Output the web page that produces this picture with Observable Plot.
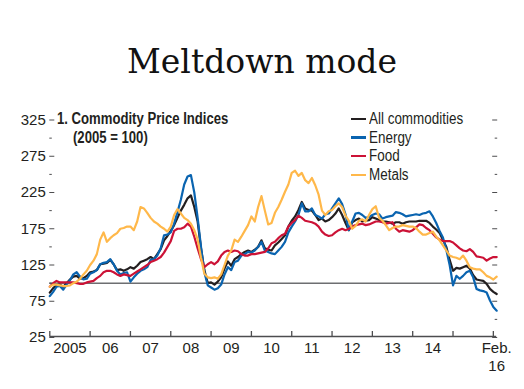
<!DOCTYPE html>
<html>
<head>
<meta charset="utf-8">
<script src="https://cdn.jsdelivr.net/npm/d3@7"></script>
<script src="https://cdn.jsdelivr.net/npm/@observablehq/plot@0.6"></script>
<style>
  html, body { margin: 0; padding: 0; background: #fff; }
  #wrap { position: relative; width: 524px; height: 389px; overflow: hidden; font-family: "Liberation Sans", Arial, sans-serif; color: #231f20; }
  #title { position: absolute; left: 0; width: 524px; top: 42px; text-align: center; font-family: "DejaVu Serif", serif; font-size: 33px; line-height: 40px; color: #111; }
  #chart { position: absolute; left: 0; top: 100px; }
  .ptitle { position: absolute; font-weight: bold; font-size: 16px; line-height: 19px; white-space: pre; transform: scaleX(0.82); transform-origin: 0 50%; }
  #legend { position: absolute; left: 351px; top: 109.5px; font-size: 16px; }
  #legend .row { display: flex; align-items: center; height: 18.7px; white-space: pre; }
  #legend .sw { width: 15px; height: 2.5px; margin-right: 3px; flex: none; }
  #legend .tx { display: inline-block; transform: scaleX(0.84); transform-origin: 0 50%; }
</style>
</head>
<body>
<div id="wrap">
  <div id="title">Meltdown mode</div>
  <div class="ptitle" style="left:57px; top:109px;">1. Commodity Price Indices</div>
  <div class="ptitle" style="left:73px; top:128px;">(2005 = 100)</div>
  <div id="chart"></div>
  <div id="legend"></div>
</div>
<script>
// Monthly data, Jan 2005 .. Feb 2016 (2005 = 100)
const startYear = 2005;
const allCommodities = [
  87, 93, 97, 98, 95, 100, 105, 109, 110, 106, 107, 110,
  115, 116, 118, 126, 127, 128, 132, 126, 118, 119, 117, 119,
  122, 120, 124, 129, 131, 133, 136, 133, 140, 147, 159, 165,
  172, 180, 190, 200, 208, 217, 221, 205, 185, 148, 118, 100,
  101, 98, 102, 108, 120, 130, 124, 133, 136, 140, 143, 145,
  143, 146, 150, 159, 148, 146, 145, 152, 156, 161, 166, 178,
  186, 192, 201, 212, 203, 201, 200, 194, 187, 189, 185, 187,
  191, 196, 203, 194, 183, 173, 184, 187, 189, 185, 186, 187,
  191, 189, 187, 185, 185, 184, 182, 184, 184, 182, 184, 185,
  185, 185, 186, 186, 186, 183, 178, 174, 169, 160, 150, 132,
  117, 121, 120, 122, 124, 120, 111, 105, 104, 103, 99, 92,
  88, 85
];
const energy = [
  82, 88, 95, 96, 91, 98, 104, 112, 115, 109, 105, 106,
  113, 115, 118, 126, 128, 129, 133, 126, 117, 112, 114, 115,
  102, 108, 113, 117, 119, 122, 132, 133, 138, 148, 166, 167,
  170, 182, 198, 215, 236, 247, 249, 225, 190, 150, 115, 97,
  94, 91, 93, 98, 112, 122, 118, 129, 131, 138, 140, 143,
  142, 145, 150, 157, 145, 143, 141, 140, 145, 150, 157, 170,
  178, 185, 194, 210, 199, 199, 203, 194, 192, 189, 195, 196,
  203, 210, 217, 209, 195, 173, 185, 196, 197, 194, 190, 191,
  194, 196, 195, 189, 191, 192, 193, 198, 197, 195, 192, 193,
  194, 195, 194, 196, 197, 199, 192, 183, 172, 163, 146, 125,
  97, 110, 106, 110, 115, 117, 108, 92, 90, 89, 87, 76,
  67, 62
];
const food = [
  95, 100, 103, 101, 101, 101, 101, 101, 100, 99, 99, 101,
  102, 103, 107, 110, 115, 117, 117, 115, 112, 110, 112, 111,
  110, 113, 116, 119, 122, 125, 129, 131, 133, 136, 142, 150,
  158, 172, 175, 175, 177, 182, 178, 164, 148, 133, 122, 126,
  129, 126, 130, 138, 143, 145, 143, 145, 144, 140, 138, 138,
  140, 140, 141, 142, 143, 148, 155, 157, 162, 166, 168, 178,
  183, 187, 193, 190, 186, 185, 184, 182, 178, 171, 167, 165,
  166, 170, 173, 175, 173, 175, 178, 180, 181, 182, 180, 181,
  183, 185, 185, 184, 182, 183, 184, 175, 171, 173, 172, 171,
  173, 177, 181, 180, 176, 173, 168, 163, 160, 158, 158, 158,
  156, 152, 148, 145, 144, 147, 143, 137, 136, 135, 131, 134,
  136, 136
];
const metals = [
  95, 98, 98, 97, 96, 96, 97, 100, 102, 106, 112, 117,
  125, 131, 140, 160, 170, 157, 162, 166, 169, 175, 176, 178,
  178, 173, 185, 205, 203, 197, 190, 185, 182, 178, 175, 171,
  178, 194, 202, 196, 190, 187, 182, 173, 160, 135, 113, 108,
  107, 108, 106, 112, 125, 138, 145, 160, 157, 164, 172, 180,
  192, 185, 205, 220, 200, 181, 183, 197, 205, 215, 226, 236,
  252, 255, 248, 252, 242, 238, 245, 235, 222, 200, 194, 199,
  201, 206, 210, 205, 193, 186, 175, 179, 186, 188, 185, 194,
  202, 206, 190, 186, 180, 173, 176, 178, 178, 180, 179, 178,
  178, 176, 171, 167, 167, 169, 171, 164, 159, 152, 145, 138,
  136, 135, 133, 138, 131, 122, 120, 119, 119, 115, 110, 108,
  105, 109
];

const seriesNames = ["All commodities", "Energy", "Food", "Metals"];
const seriesColors = ["#231f20", "#0a64b0", "#cc1236", "#ffb84a"];
const seriesValues = [allCommodities, energy, food, metals];

const yMajor = [25, 75, 125, 175, 225, 275, 325];
const yMinor = [50, 100, 150, 200, 250, 300];
const yearTicks = [2005, 2006, 2007, 2008, 2009, 2010, 2011, 2012, 2013, 2014, 2015, 2016];
const xLabelText = ["2005", "06", "07", "08", "09", "10", "11", "12", "13", "14", "Feb."];
const xLabelPos = [2005.5, 2006.5, 2007.5, 2008.5, 2009.5, 2010.5, 2011.5, 2012.5, 2013.5, 2014.5, 2016 + 1/12];
const xLabel2Text = ["16"];
const xLabel2Pos = [2016 + 1/12];
const baseline = 100;

const rows = [];
seriesValues.forEach((vals, s) => {
  vals.forEach((v, i) => rows.push({t: startYear + i / 12, v, key: seriesNames[s]}));
});
const xEnd = startYear + (allCommodities.length - 1) / 12;

const axisFont = "'Liberation Sans', Arial, sans-serif";

const chart = Plot.plot({
  width: 524,
  height: 289,
  marginLeft: 49.3,
  marginRight: 27.8,
  marginTop: 19.5,
  marginBottom: 52,
  style: {fontFamily: axisFont, fontSize: "15px", color: "#231f20", background: "transparent", overflow: "visible"},
  x: {domain: [startYear, xEnd], axis: null},
  y: {domain: [25, 325], axis: null},
  color: {domain: seriesNames, range: seriesColors},
  marks: [
    Plot.ruleY([baseline], {stroke: "#6d6e71", strokeWidth: 1.5}),
    Plot.lineY(rows, {x: "t", y: "v", z: "key", stroke: "key", strokeWidth: 2.2, strokeLinejoin: "round"}),
    Plot.ruleY([25], {stroke: "#4d4d4f", strokeWidth: 1.3, dy: -1}),
    Plot.axisX(yearTicks, {anchor: "bottom", tickSize: -5, tickFormat: () => "", stroke: "#4d4d4f", strokeWidth: 1.3, dy: -1, label: null}),
    Plot.axisX(xLabelPos, {anchor: "bottom", tickSize: 0, tickPadding: 5, tickFormat: (d, i) => xLabelText[i], fontSize: 15, label: null, fill: "#231f20"}),
    Plot.axisX(xLabel2Pos, {anchor: "bottom", tickSize: 0, tickPadding: 23, tickFormat: (d, i) => xLabel2Text[i], fontSize: 15, label: null, fill: "#231f20"}),
    Plot.axisY(yMajor, {anchor: "left", tickSize: 0, tickPadding: 4, label: null, fontSize: 15, fill: "#231f20"}),
    Plot.axisY(yMajor, {anchor: "left", tickSize: -5, tickFormat: () => "", label: null, stroke: "#4d4d4f"}),
    Plot.axisY(yMinor, {anchor: "left", tickSize: -2.5, tickFormat: () => "", label: null, stroke: "#4d4d4f"}),
    Plot.axisY(yMajor, {anchor: "right", tickSize: -5, tickFormat: () => "", label: null, stroke: "#4d4d4f"}),
    Plot.axisY(yMinor, {anchor: "right", tickSize: -2.5, tickFormat: () => "", label: null, stroke: "#4d4d4f"})
  ]
});
document.getElementById("chart").appendChild(chart);

const legend = document.getElementById("legend");
seriesNames.forEach((name, i) => {
  const row = document.createElement("div");
  row.className = "row";
  const sw = document.createElement("span");
  sw.className = "sw";
  sw.style.background = seriesColors[i];
  const tx = document.createElement("span");
  tx.className = "tx";
  tx.textContent = name;
  row.appendChild(sw);
  row.appendChild(tx);
  legend.appendChild(row);
});
</script>
</body>
</html>
